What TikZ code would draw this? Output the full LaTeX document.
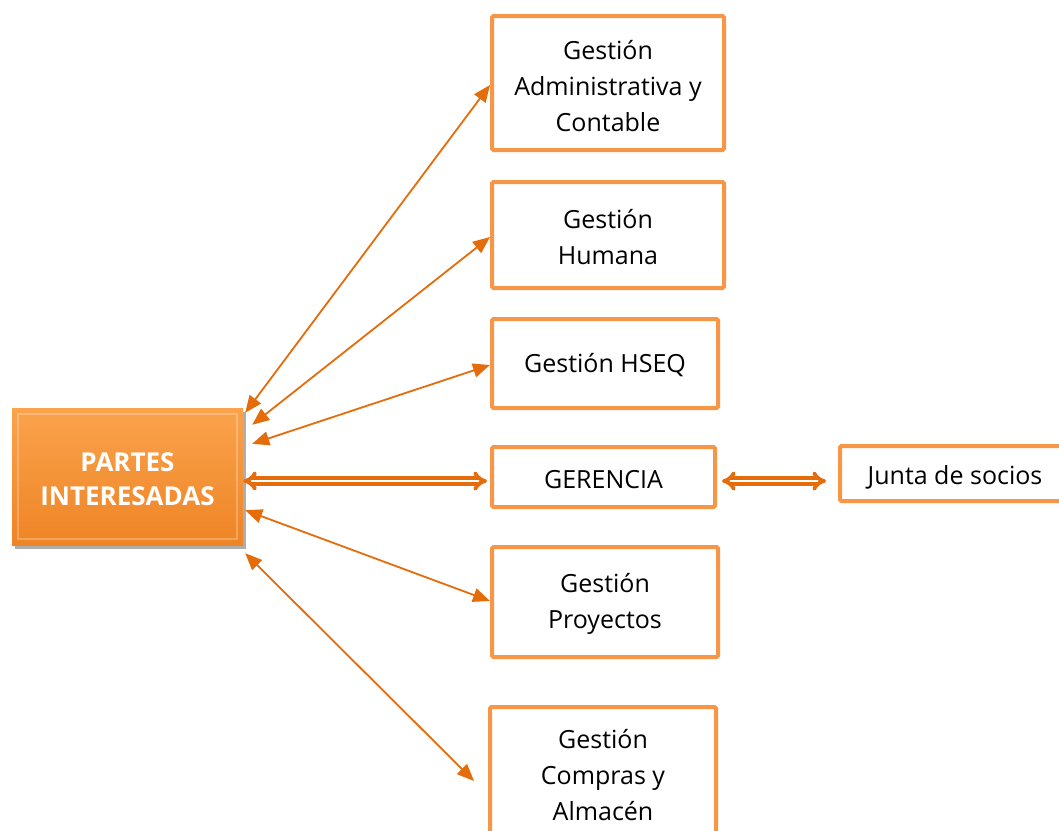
\documentclass[tikz,border=0pt]{standalone}
\usepackage{fontspec}
\setmainfont{Open Sans}
\usetikzlibrary{arrows.meta,shadows}
\definecolor{boxline}{HTML}{F79646}
\definecolor{arrowc}{HTML}{E46C0A}
\definecolor{fillTop}{HTML}{FAA34C}
\definecolor{fillBot}{HTML}{EE8425}
\begin{document}
\begin{tikzpicture}[x=1pt,y=-1pt,
  area/.style={draw=boxline, line width=4pt, rounded corners=1.5pt, fill=white,
    inner sep=0pt},
  areatext/.style={align=center, inner sep=0pt, text=black,
    font=\fontsize{25}{36}\selectfont},
  hub/.style={fill=boxline, top color=fillTop, bottom color=fillBot, draw=none,
    drop shadow={shadow xshift=3pt, shadow yshift=-4pt, opacity=0.45, fill=black!70},
    inner sep=0pt},
  hubtext/.style={align=center, inner sep=0pt, text=white,
    font=\fontsize{26}{34}\selectfont\bfseries},
  link/.style={draw=arrowc, line width=1.8pt,
    {Triangle[length=17pt,width=14pt]}-{Triangle[length=17pt,width=14pt]}},
  dlink/.style={draw=arrowc, line width=3.8pt, double=white, double distance=2pt,
    {Implies[scale=1.5]}-{Implies[scale=1.5]}}
]
\useasboundingbox (0,0) rectangle (1059,830);

% hub box
\node[hub, minimum width=231pt, minimum height=137pt] (partes) at (127.5,476.5) {};
\draw[white, opacity=0.25, line width=1.5pt]
  ([xshift=6pt,yshift=-6pt]partes.north west) rectangle ([xshift=-6pt,yshift=6pt]partes.south east);
\node[hubtext] (partes-t) at ([yshift=-3pt]partes.center) {PARTES\\INTERESADAS};

% departments
\node[area, minimum width=232pt, minimum height=134pt] (admin) at (608,83) {};
\node[areatext] (admin-t) at ([yshift=-3pt]admin.center) {Gestión\\Administrativa y\\Contable};
\node[area, minimum width=232pt, minimum height=106pt] (humana) at (608,235) {};
\node[areatext] (humana-t) at ([yshift=-2pt]humana.center) {Gestión\\Humana};
\node[area, minimum width=226pt, minimum height=89pt] (hseq) at (605,363.5) {};
\node[areatext] (hseq-t) at ([yshift=-2pt]hseq.center) {Gestión HSEQ};
\node[area, minimum width=223pt, minimum height=60pt] (gerencia) at (603.5,477) {};
\node[areatext] (gerencia-t) at ([yshift=-3pt]gerencia.center) {GERENCIA};
\node[area, minimum width=230pt, minimum height=55pt] (junta) at (955,473.5) {};
\node[areatext] (junta-t) at ([yshift=-4pt]junta.center) {Junta de socios};
\node[area, minimum width=226pt, minimum height=110pt] (proyectos) at (605,602) {};
\node[areatext] (proyectos-t) at ([yshift=-2pt]proyectos.center) {Gestión\\Proyectos};
\node[area, minimum width=226pt, minimum height=134pt] (compras) at (603,774) {};
\node[areatext] (compras-t) at ([yshift=-1pt]compras.center) {Gestión\\Compras y\\Almacén};

% connectors (canvas yshift: negative moves down)
\draw[link] ([xshift=2pt,yshift=-5pt]partes.north east) -- ([yshift=-2pt]admin.west);
\draw[link] ([xshift=9pt,yshift=-17pt]partes.north east) -- ([yshift=-2pt]humana.west);
\draw[link] ([xshift=9pt,yshift=-36pt]partes.north east) -- ([yshift=-1.5pt]hseq.west);
\draw[dlink] ([yshift=-4.5pt]partes.east) -- ([xshift=-3pt,yshift=-4pt]gerencia.west);
\draw[dlink] ([xshift=5pt,yshift=-4pt]gerencia.east) -- ([xshift=-12pt,yshift=-7.5pt]junta.west);
\draw[link] ([xshift=2pt,yshift=35pt]partes.south east) -- ([yshift=1pt]proyectos.west);
\draw[link] ([xshift=2pt,yshift=-8pt]partes.south east) -- ([xshift=-14pt,yshift=-7pt]compras.west);
\end{tikzpicture}
\end{document}
